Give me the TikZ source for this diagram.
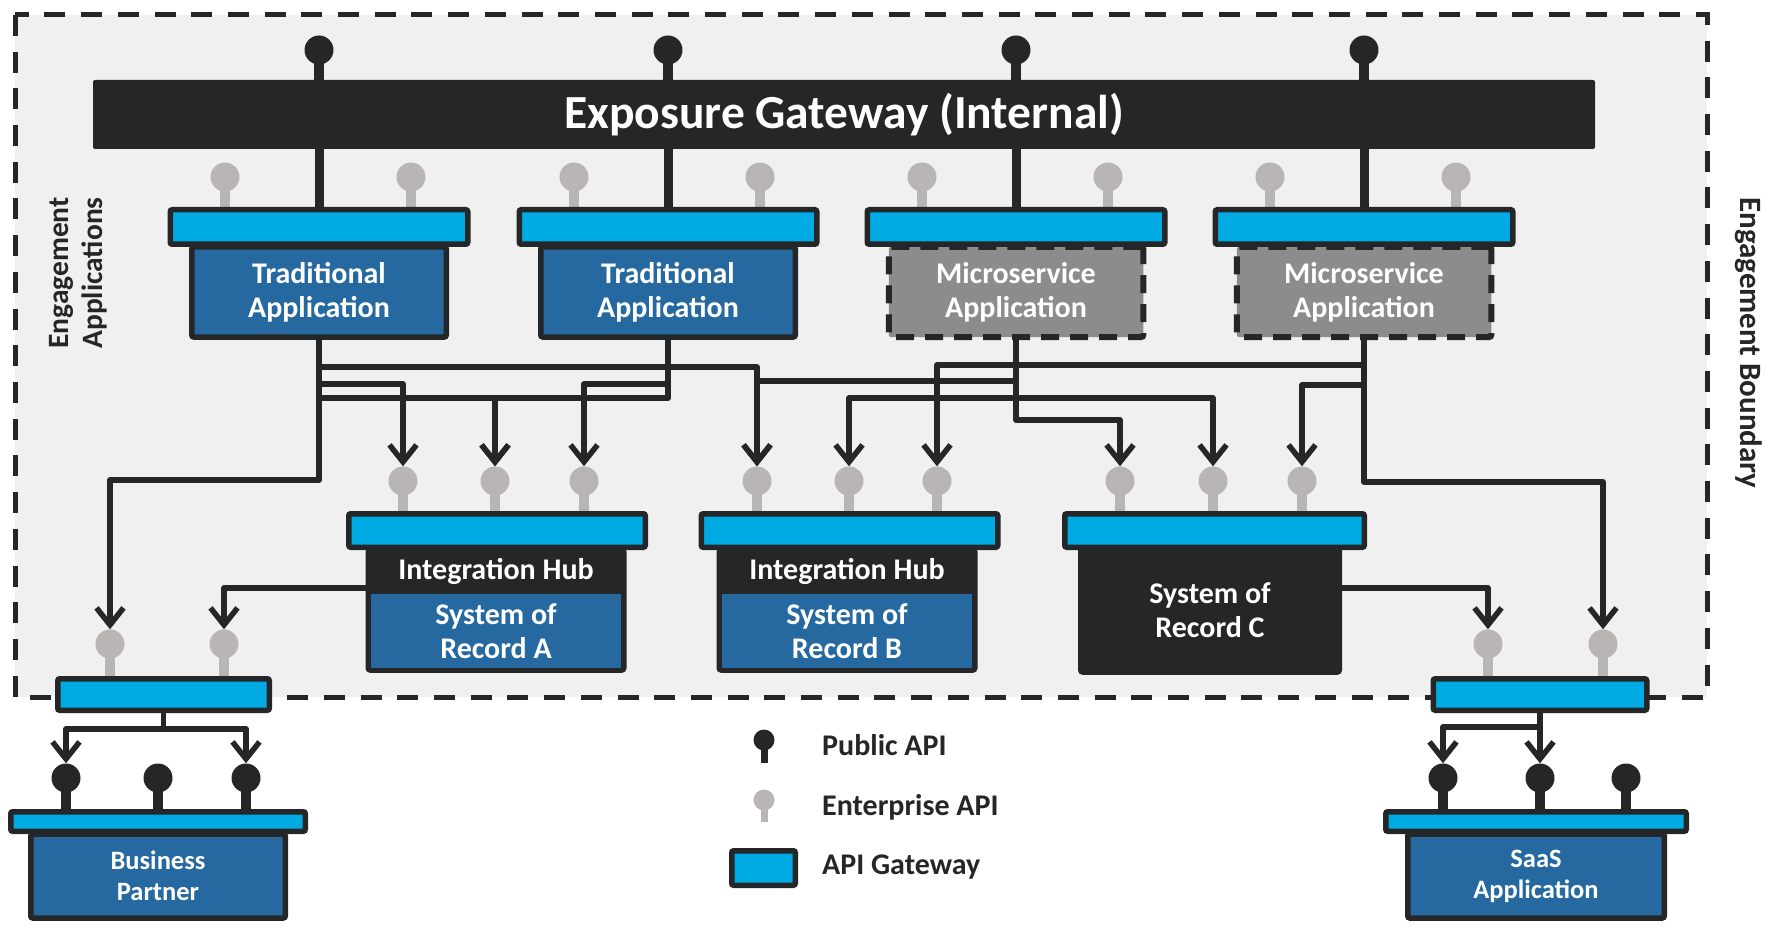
\documentclass[tikz,border=0pt]{standalone}
\usepackage{fontspec}
\setmainfont{Carlito}
\usetikzlibrary{arrows.meta}

\definecolor{ink}{HTML}{252628}
\definecolor{gwcyan}{HTML}{00ABE4}
\definecolor{sysblue}{HTML}{2569A0}
\definecolor{msgray}{HTML}{8C8C8C}
\definecolor{pingray}{HTML}{B8B5B4}
\definecolor{zone}{HTML}{F0F0F0}

\tikzset{
  boundary/.style={draw=ink, fill=zone, line width=5pt, dash pattern=on 21pt off 15.7pt},
  gateway/.style={draw=ink, line width=5.5pt, fill=gwcyan, rounded corners=2pt, inner sep=0pt},
  appbox/.style={draw=ink, line width=5.5pt, fill=sysblue, rounded corners=2pt, inner sep=0pt,
    minimum width=254.5pt, minimum height=90pt, text=white, align=center,
    font=\bfseries\fontsize{30}{34}\selectfont},
  msbox/.style={appbox, fill=msgray, line width=6pt, dash pattern=on 18pt off 11pt},
  hubbox/.style={draw=ink, line width=5.5pt, fill=ink, rounded corners=2pt, inner sep=0pt,
    text=white, align=center, font=\bfseries\fontsize{30}{34}\selectfont},
  sorfill/.style={fill=sysblue, inner sep=0pt, minimum width=250pt, minimum height=74pt,
    text=white, align=center, font=\bfseries\fontsize{30}{34}\selectfont},
  hubtext/.style={text=white, font=\bfseries\fontsize{30}{34}\selectfont},
  partner/.style={appbox, minimum height=84pt, font=\bfseries\fontsize{26.5}{31}\selectfont},
  pubpin/.style={circle, fill=ink, minimum size=29pt, inner sep=0pt},
  entpin/.style={circle, fill=pingray, minimum size=29pt, inner sep=0pt},
  pubstem/.style={draw=ink, line width=10pt},
  entstem/.style={draw=pingray, line width=10pt},
  trunk/.style={draw=ink, line width=9pt},
  wire/.style={draw=ink, line width=5.5pt, line join=round, -{Straight Barb[length=17pt,width=27pt]}},
  legend/.style={text=ink, anchor=base west, inner sep=0pt, font=\bfseries\fontsize{30}{34}\selectfont}
}

\begin{document}
\begin{tikzpicture}[x=1pt,y=-1pt]
\useasboundingbox (0,0) rectangle (1792,928);

\draw[boundary] (15,15) rectangle (1707,697);

\node[fill=ink, rounded corners=2pt, minimum width=1502pt, minimum height=69pt, text=white,
  font=\bfseries\fontsize{47.5}{56}\selectfont] (expo) at (844,114.5) {Exposure Gateway (Internal)};

\foreach \c/\kind/\sty [count=\i] in {319/Traditional/appbox, 668/Traditional/appbox,
    1016/Microservice/msbox, 1364/Microservice/msbox} {
  \node[pubpin] (top\i) at (\c,50) {};
  \draw[pubstem] (top\i.center) -- (expo.north -| top\i);
  \node[\sty] (app\i) at (\c,292) {\kind\\Application};
  \node[entpin] (eL\i) at ({\c-94},177) {};
  \node[entpin] (eR\i) at ({\c+92},177) {};
  \draw[entstem] (eL\i.center) -- ++(0,31);
  \draw[entstem] (eR\i.center) -- ++(0,31);
  \node[gateway, minimum width=297.5pt, minimum height=34.5pt] (gw\i) at (\c,227) {};
  \draw[trunk] (expo.south -| gw\i.north) -- (gw\i.north);
}

\node[hubbox, minimum width=255.5pt, minimum height=120pt] (hubA) at (496,610) {};
\node[sorfill] (sorA) at (496,631) {System of\\Record A};
\node[hubtext] (hubAt) at (496,571) {Integration Hub};
\node[hubbox, minimum width=255.5pt, minimum height=120pt] (hubB) at (847,610) {};
\node[sorfill] (sorB) at (847,631) {System of\\Record B};
\node[hubtext] (hubBt) at (847,571) {Integration Hub};
\node[hubbox, minimum width=258.5pt, minimum height=124pt] (sysC) at (1210,610) {System of\\Record C};

\foreach \x/\n in {403/hA1, 495/hA2, 584/hA3, 757/hB1, 849/hB2, 937/hB3, 1120/sC1, 1213/sC2, 1302/sC3} {
  \node[entpin] (\n) at (\x,481) {};
  \draw[entstem] (\n.center) -- ++(0,31);
}
\node[gateway, minimum width=296.5pt, minimum height=33.5pt] (gwA) at (497,530.5) {};
\node[gateway, minimum width=296.5pt, minimum height=33.5pt] (gwB) at (849.5,530.5) {};
\node[gateway, minimum width=299.5pt, minimum height=33.5pt] (gwC) at (1214.5,530.5) {};

\foreach \x/\n in {110/bpE1, 224/bpE2, 1488/saE1, 1603/saE2} {
  \node[entpin] (\n) at (\x,644) {};
  \draw[entstem] (\n.center) -- ++(0,33);
}
\node[gateway, minimum width=211.5pt, minimum height=31.5pt] (bpgw) at (163.5,694.5) {};
\node[gateway, minimum width=213.5pt, minimum height=31.5pt] (sagw) at (1540,694.5) {};

\foreach \x/\n in {66/bpP1, 158/bpP2, 246/bpP3, 1443/saP1, 1540/saP2, 1626/saP3} {
  \node[pubpin] (\n) at (\x,778) {};
  \draw[pubstem] (\n.center) -- ++(0,32);
}
\node[partner] (bp) at (158,876) {Business\\Partner};
\node[partner, minimum width=256.5pt] (saas) at (1536,876) {SaaS\\Application};
\node[gateway, minimum width=294.5pt, minimum height=19.5pt] (bpapi) at (158,821.5) {};
\node[gateway, minimum width=300.5pt, minimum height=19.5pt] (saapi) at (1536,821.5) {};

\foreach \src/\lane/\dst in {app1/367/hB1, app1/384/hA1, app1/398/hA2, app1/480/bpE1,
    app2/384/hA3, app2/398/hA2, app3/381/hB1, app3/398/hB2, app3/398/sC2, app3/420/sC1,
    app4/365/hB3, app4/385/sC3, app4/482/saE2}
  \draw[wire] (\src.south) -- (\src.south |- 0,\lane) -| (\dst.north);

\draw[wire] (hubA.west |- 0,588) -| (bpE2.north);
\draw[wire] (sysC.east |- 0,588) -| (saE1.north);
\draw[wire] (bpgw.south) -- (bpgw.south |- 0,729) -| (bpP1.north);
\draw[wire] (bpgw.south) -- (bpgw.south |- 0,729) -| (bpP3.north);
\draw[wire] (sagw.south) -- (sagw.south |- 0,727) -| (saP1.north);
\draw[wire] (sagw.south) -- (saP2.north);

\node[circle, fill=ink, minimum size=21pt, inner sep=0pt] (lgpub) at (764,740) {};
\draw[draw=ink, line width=7pt] (lgpub.center) -- ++(0,23);
\node[circle, fill=pingray, minimum size=21pt, inner sep=0pt] (lgent) at (764,800) {};
\draw[draw=pingray, line width=7pt] (lgent.center) -- ++(0,22);
\node[gateway, minimum width=63.5pt, minimum height=34.5pt] (lggw) at (763.5,868) {};
\node[legend] (lgpubt) at (822,755) {Public API};
\node[legend] (lgentt) at (822,815) {Enterprise API};
\node[legend] (lggwt) at (822,874) {API Gateway};

\node[text=ink, rotate=90, align=center, font=\bfseries\fontsize{29.5}{34}\selectfont] (engapp) at (78,273) {Engagement\\Applications};
\node[text=ink, rotate=-90, font=\bfseries\fontsize{31}{36}\selectfont] (engbnd) at (1749,343) {Engagement Boundary};

\end{tikzpicture}
\end{document}
